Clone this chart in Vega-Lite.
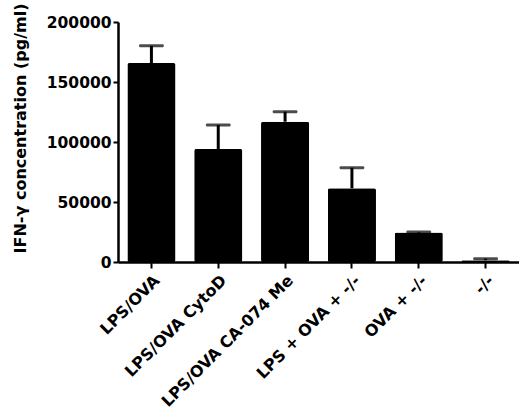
{
  "$schema": "https://vega.github.io/schema/vega-lite/v6.json",
  "autosize": "none",
  "width": 401,
  "height": 240,
  "padding": {"left": 118, "top": 22, "right": 0, "bottom": 151},
  "background": "white",
  "config": {
    "view": {"stroke": null},
    "axis": {"labelFont": "DejaVu Sans", "titleFont": "DejaVu Sans", "labelColor": "black", "titleColor": "black", "domainColor": "black", "tickColor": "black", "grid": false}
  },
  "data": {
    "values": [
      {"group": "LPS/OVA", "mean": 165800, "upper": 180200},
      {"group": "LPS/OVA CytoD", "mean": 94200, "upper": 114200},
      {"group": "LPS/OVA CA-074 Me", "mean": 116900, "upper": 125300},
      {"group": "LPS + OVA + -/-", "mean": 61400, "upper": 78600},
      {"group": "OVA + -/-", "mean": 24500, "upper": 25000},
      {"group": "-/-", "mean": 1500, "upper": 2800}
    ]
  },
  "encoding": {
    "x": {
      "field": "group", "type": "nominal", "sort": null,
      "scale": {"paddingInner": 0.28, "paddingOuter": 0.14},
      "axis": {"title": null, "labelAngle": -45, "labelFontSize": 16, "labelFontWeight": "bold", "labelLimit": 400, "tickSize": 6, "tickWidth": 2, "domainWidth": 2.5, "labelPadding": 4}
    }
  },
  "layer": [
    {
      "mark": {"type": "rule", "color": "black", "strokeWidth": 3},
      "encoding": {
        "y": {"field": "mean", "type": "quantitative"},
        "y2": {"field": "upper"}
      }
    },
    {
      "mark": {"type": "tick", "color": "black", "size": 25, "thickness": 3, "cornerRadius": 1.5},
      "encoding": {
        "y": {"field": "upper", "type": "quantitative"}
      }
    },
    {
      "mark": {"type": "bar", "color": "black", "cornerRadius": 2},
      "encoding": {
        "y": {
          "field": "mean", "type": "quantitative",
          "scale": {"domain": [0, 200000], "nice": false, "zero": true},
          "axis": {
            "title": "IFN-γ concentration (pg/ml)",
            "values": [0, 50000, 100000, 150000, 200000],
            "format": "d",
            "labelFontSize": 15.5, "labelFontWeight": "bold",
            "titleFontSize": 16, "titleFontWeight": "bold",
            "tickSize": 5, "tickWidth": 2, "domainWidth": 2.5, "labelPadding": 2,
            "titlePadding": 18, "titleY": 106
          }
        }
      }
    }
  ]
}
